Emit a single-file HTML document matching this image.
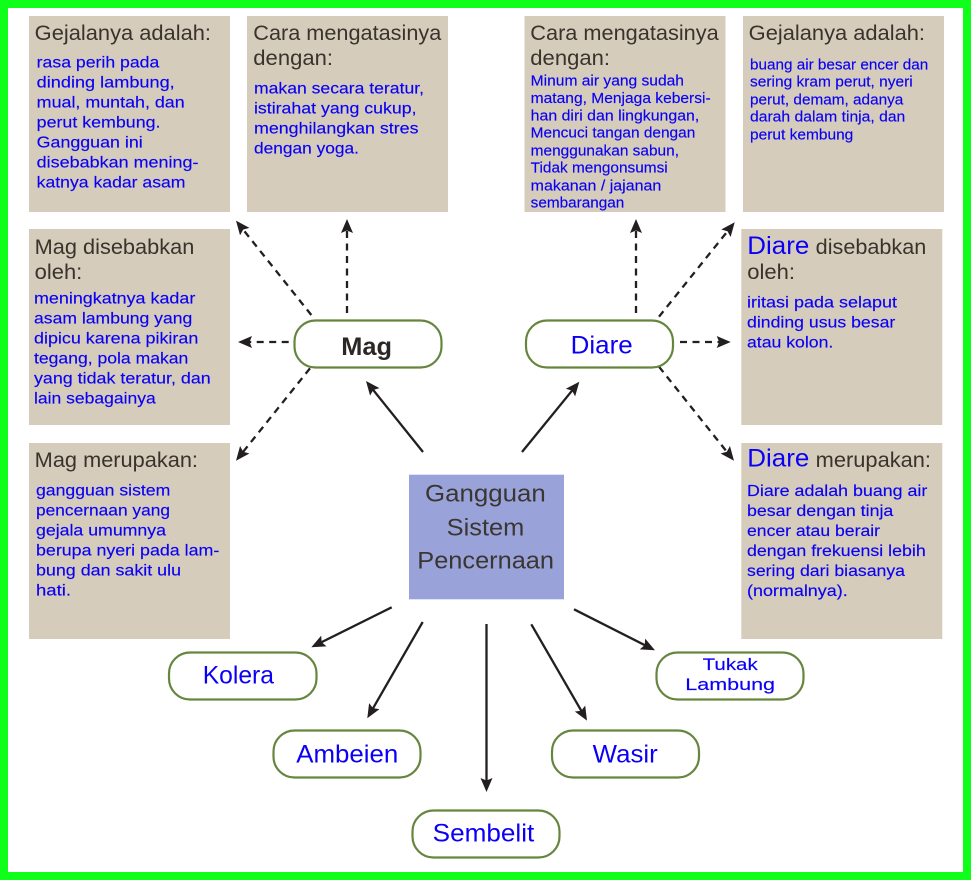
<!DOCTYPE html>
<html lang="id">
<head>
<meta charset="utf-8">
<title>Gangguan Sistem Pencernaan</title>
<style>
html,body{margin:0;padding:0;background:#fff}
svg{display:block}
text{font-family:"Liberation Sans",sans-serif;}
.h{font-size:21px;fill:#3a332c}
.b{font-size:16px;fill:#0a00f5;stroke:#0a00f5;stroke-width:.15}
.s{font-size:14.5px;fill:#0a00f5;stroke:#0a00f5;stroke-width:.15}
.d{font-size:25px;fill:#0a00f5}
.c{font-size:24px;fill:#3a3632}
.p{font-size:25px;fill:#0a00f5}
.t{font-size:17px;fill:#0a00f5;stroke:#0a00f5;stroke-width:.15}
.box{fill:#d5ccbc}
.pill{fill:#fff;stroke:#66863f;stroke-width:2.2}
.l{stroke:#231f20;stroke-width:2.3;fill:none;marker-end:url(#a)}
.k{stroke-dasharray:7 5.5}
</style>
</head>
<body>
<svg xmlns="http://www.w3.org/2000/svg" width="971" height="880" viewBox="0 0 971 880">
<defs>
<marker id="a" markerUnits="userSpaceOnUse" markerWidth="17" markerHeight="15" refX="10" refY="7.5" orient="auto">
<path d="M0,1.5 L14,7.5 L0,13.5 L2.5,7.5 Z" fill="#231f20"/>
</marker>
</defs>
<rect x="4" y="4" width="963" height="872" fill="#fff" stroke="#10ff1a" stroke-width="8"/>

<rect class="box" x="29" y="16" width="201" height="196"/>
<rect class="box" x="247" y="16" width="201" height="196"/>
<rect class="box" x="29" y="229" width="201" height="196"/>
<rect class="box" x="29" y="443" width="201" height="196"/>
<rect class="box" x="524.5" y="16" width="201" height="196"/>
<rect class="box" x="743" y="16" width="201" height="196"/>
<rect class="box" x="741.3" y="229" width="201" height="196"/>
<rect class="box" x="741.3" y="443" width="201" height="196"/>
<rect x="409" y="474.7" width="155" height="124.6" fill="#9aa2da"/>

<line class="l" x1="423" y1="452" x2="368.5" y2="384.1"/>
<line class="l" x1="522" y1="452" x2="576.8" y2="384.8"/>
<line class="l" x1="391.7" y1="607.3" x2="314.9" y2="645.5"/>
<line class="l" x1="422.7" y1="622" x2="369.3" y2="714.8"/>
<line class="l" x1="486.5" y1="624" x2="486.5" y2="788"/>
<line class="l" x1="531.3" y1="624.3" x2="585" y2="717.2"/>
<line class="l" x1="574" y1="609.3" x2="651.4" y2="648.5"/>

<line class="l k" x1="311.3" y1="315" x2="238.5" y2="223.8"/>
<line class="l k" x1="347" y1="313" x2="347" y2="223"/>
<line class="l k" x1="288.7" y1="342" x2="242" y2="342"/>
<line class="l k" x1="310" y1="368.3" x2="238.5" y2="457.6"/>
<line class="l k" x1="636" y1="313" x2="636" y2="223"/>
<line class="l k" x1="659" y1="316.7" x2="732.2" y2="225.4"/>
<line class="l k" x1="680" y1="342" x2="726.7" y2="342"/>
<line class="l k" x1="659" y1="366.7" x2="731.5" y2="457.6"/>

<rect class="pill" x="294.5" y="320.5" width="147" height="47" rx="21"/>
<rect class="pill" x="526" y="320.5" width="147" height="47" rx="21"/>
<rect class="pill" x="169" y="652.5" width="147.5" height="47" rx="21"/>
<rect class="pill" x="273.5" y="730.5" width="147" height="47" rx="21"/>
<rect class="pill" x="412.5" y="810.5" width="147" height="47" rx="21"/>
<rect class="pill" x="552" y="730.5" width="147" height="47" rx="21"/>
<rect class="pill" x="656.5" y="652.5" width="147" height="47" rx="21"/>

<text class="h" x="34.7" y="40" textLength="176.3" lengthAdjust="spacingAndGlyphs">Gejalanya adalah:</text>
<text class="b" x="36.7" y="67.7" textLength="122.6" lengthAdjust="spacingAndGlyphs">rasa perih pada</text>
<text class="b" x="36.7" y="87.7" textLength="138" lengthAdjust="spacingAndGlyphs">dinding lambung,</text>
<text class="b" x="36.7" y="107.7" textLength="148" lengthAdjust="spacingAndGlyphs">mual, muntah, dan</text>
<text class="b" x="36.7" y="127.7" textLength="123.8" lengthAdjust="spacingAndGlyphs">perut kembung.</text>
<text class="b" x="36.7" y="147.7" textLength="106" lengthAdjust="spacingAndGlyphs">Gangguan ini</text>
<text class="b" x="36.7" y="167.7" textLength="161.8" lengthAdjust="spacingAndGlyphs">disebabkan mening-</text>
<text class="b" x="36.7" y="187.7" textLength="148.8" lengthAdjust="spacingAndGlyphs">katnya kadar asam</text>

<text class="h" x="253.3" y="40" textLength="188" lengthAdjust="spacingAndGlyphs">Cara mengatasinya</text>
<text class="h" x="253.3" y="65" textLength="79.7" lengthAdjust="spacingAndGlyphs">dengan:</text>
<text class="b" x="254" y="93.7" textLength="170" lengthAdjust="spacingAndGlyphs">makan secara teratur,</text>
<text class="b" x="254" y="113.7" textLength="162.5" lengthAdjust="spacingAndGlyphs">istirahat yang cukup,</text>
<text class="b" x="254" y="133.7" textLength="164.5" lengthAdjust="spacingAndGlyphs">menghilangkan stres</text>
<text class="b" x="254" y="153.7" textLength="105" lengthAdjust="spacingAndGlyphs">dengan yoga.</text>

<text class="h" x="34.7" y="254" textLength="159.6" lengthAdjust="spacingAndGlyphs">Mag disebabkan</text>
<text class="h" x="34.7" y="279" textLength="47.6" lengthAdjust="spacingAndGlyphs">oleh:</text>
<text class="b" x="34" y="303.3" textLength="161.3" lengthAdjust="spacingAndGlyphs">meningkatnya kadar</text>
<text class="b" x="34" y="323.3" textLength="158.3" lengthAdjust="spacingAndGlyphs">asam lambung yang</text>
<text class="b" x="34" y="343.3" textLength="164.3" lengthAdjust="spacingAndGlyphs">dipicu karena pikiran</text>
<text class="b" x="34" y="363.3" textLength="154.3" lengthAdjust="spacingAndGlyphs">tegang, pola makan</text>
<text class="b" x="34" y="383.3" textLength="176.7" lengthAdjust="spacingAndGlyphs">yang tidak teratur, dan</text>
<text class="b" x="34" y="403.3" textLength="121.7" lengthAdjust="spacingAndGlyphs">lain sebagainya</text>

<text class="h" x="34.7" y="467" textLength="163.3" lengthAdjust="spacingAndGlyphs">Mag merupakan:</text>
<text class="b" x="36" y="495.3" textLength="134.3" lengthAdjust="spacingAndGlyphs">gangguan sistem</text>
<text class="b" x="36" y="515.3" textLength="134" lengthAdjust="spacingAndGlyphs">pencernaan yang</text>
<text class="b" x="36" y="535.3" textLength="130" lengthAdjust="spacingAndGlyphs">gejala umumnya</text>
<text class="b" x="36" y="555.3" textLength="183.3" lengthAdjust="spacingAndGlyphs">berupa nyeri pada lam-</text>
<text class="b" x="36" y="575.3" textLength="145" lengthAdjust="spacingAndGlyphs">bung dan sakit ulu</text>
<text class="b" x="36" y="595.3" textLength="35" lengthAdjust="spacingAndGlyphs">hati.</text>

<text class="h" x="530.3" y="40" textLength="188.4" lengthAdjust="spacingAndGlyphs">Cara mengatasinya</text>
<text class="h" x="530.3" y="65" textLength="79.7" lengthAdjust="spacingAndGlyphs">dengan:</text>
<text class="s" x="530.7" y="85.7" textLength="153.3" lengthAdjust="spacingAndGlyphs">Minum air yang sudah</text>
<text class="s" x="530.7" y="103" textLength="180" lengthAdjust="spacingAndGlyphs">matang, Menjaga kebersi-</text>
<text class="s" x="530.7" y="120.7" textLength="168.6" lengthAdjust="spacingAndGlyphs">han diri dan lingkungan,</text>
<text class="s" x="530.7" y="137.7" textLength="164.6" lengthAdjust="spacingAndGlyphs">Mencuci tangan dengan</text>
<text class="s" x="530.7" y="155.7" textLength="148.3" lengthAdjust="spacingAndGlyphs">menggunakan sabun,</text>
<text class="s" x="530.7" y="172.7" textLength="137" lengthAdjust="spacingAndGlyphs">Tidak mengonsumsi</text>
<text class="s" x="530.7" y="190.7" textLength="130.6" lengthAdjust="spacingAndGlyphs">makanan / jajanan</text>
<text class="s" x="530.7" y="207.7" textLength="93.6" lengthAdjust="spacingAndGlyphs">sembarangan</text>

<text class="h" x="748.7" y="40" textLength="176.3" lengthAdjust="spacingAndGlyphs">Gejalanya adalah:</text>
<text class="s" x="750" y="69.7" textLength="178.3" lengthAdjust="spacingAndGlyphs">buang air besar encer dan</text>
<text class="s" x="750" y="86.7" textLength="162.7" lengthAdjust="spacingAndGlyphs">sering kram perut, nyeri</text>
<text class="s" x="750" y="104.7" textLength="153.3" lengthAdjust="spacingAndGlyphs">perut, demam, adanya</text>
<text class="s" x="750" y="121.7" textLength="155.3" lengthAdjust="spacingAndGlyphs">darah dalam tinja, dan</text>
<text class="s" x="750" y="139.7" textLength="103.3" lengthAdjust="spacingAndGlyphs">perut kembung</text>

<text class="d" x="747.3" y="254" textLength="62" lengthAdjust="spacingAndGlyphs">Diare</text>
<text class="h" x="815.7" y="254" textLength="110.6" lengthAdjust="spacingAndGlyphs">disebabkan</text>
<text class="h" x="747.3" y="279" textLength="47.7" lengthAdjust="spacingAndGlyphs">oleh:</text>
<text class="b" x="747" y="307.3" textLength="150" lengthAdjust="spacingAndGlyphs">iritasi pada selaput</text>
<text class="b" x="747" y="327.3" textLength="148.3" lengthAdjust="spacingAndGlyphs">dinding usus besar</text>
<text class="b" x="747" y="347.3" textLength="86.3" lengthAdjust="spacingAndGlyphs">atau kolon.</text>

<text class="d" x="747.3" y="466.7" textLength="62" lengthAdjust="spacingAndGlyphs">Diare</text>
<text class="h" x="815.7" y="467" textLength="115.3" lengthAdjust="spacingAndGlyphs">merupakan:</text>
<text class="b" x="747" y="496" textLength="180.3" lengthAdjust="spacingAndGlyphs">Diare adalah buang air</text>
<text class="b" x="747" y="516" textLength="146.3" lengthAdjust="spacingAndGlyphs">besar dengan tinja</text>
<text class="b" x="747" y="536" textLength="133" lengthAdjust="spacingAndGlyphs">encer atau berair</text>
<text class="b" x="747" y="556" textLength="178.7" lengthAdjust="spacingAndGlyphs">dengan frekuensi lebih</text>
<text class="b" x="747" y="576" textLength="158" lengthAdjust="spacingAndGlyphs">sering dari biasanya</text>
<text class="b" x="747" y="596" textLength="100.7" lengthAdjust="spacingAndGlyphs">(normalnya).</text>

<text class="c" x="425" y="501.7" textLength="120.7" lengthAdjust="spacingAndGlyphs">Gangguan</text>
<text class="c" x="446.7" y="535.7" textLength="77.6" lengthAdjust="spacingAndGlyphs">Sistem</text>
<text class="c" x="417.3" y="568.7" textLength="136.7" lengthAdjust="spacingAndGlyphs">Pencernaan</text>

<text x="341.3" y="355" font-size="25" font-weight="bold" fill="#2b2725" textLength="50.7" lengthAdjust="spacingAndGlyphs">Mag</text>
<text class="p" x="570.7" y="353.3" textLength="62" lengthAdjust="spacingAndGlyphs">Diare</text>
<text class="p" x="202.7" y="683.3" textLength="71.3" lengthAdjust="spacingAndGlyphs">Kolera</text>
<text class="p" x="296.3" y="762.7" textLength="102" lengthAdjust="spacingAndGlyphs">Ambeien</text>
<text class="p" x="432.7" y="841.7" textLength="101.6" lengthAdjust="spacingAndGlyphs">Sembelit</text>
<text class="p" x="592.7" y="762.7" textLength="65" lengthAdjust="spacingAndGlyphs">Wasir</text>
<text class="t" x="702.7" y="670" textLength="55" lengthAdjust="spacingAndGlyphs">Tukak</text>
<text class="t" x="685.3" y="690" textLength="89.7" lengthAdjust="spacingAndGlyphs">Lambung</text>
</svg>
</body>
</html>
